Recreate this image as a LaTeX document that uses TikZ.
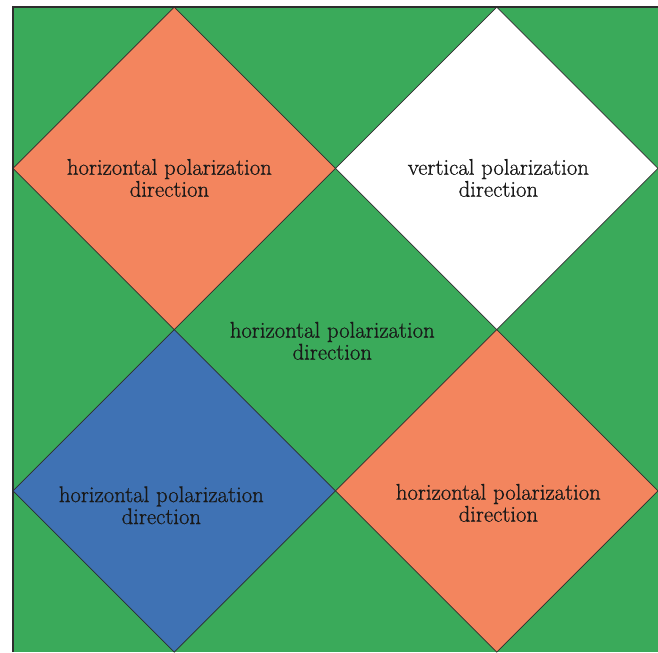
\documentclass[tikz,border=0pt]{standalone}
\usepackage{fontspec}
\usepackage{tikz}
\usepackage{xcolor}
\newfontfamily\polfont{Latin Modern Roman}[FakeBold=0.8]
\definecolor{fieldgreen}{RGB}{58,170,90}
\definecolor{salmon}{RGB}{243,133,94}
\definecolor{cellblue}{RGB}{63,114,180}
\definecolor{edgegray}{RGB}{45,45,45}
\tikzset{cell/.style={draw=edgegray, line width=0.5pt},
 frame/.style={draw=edgegray, line width=0.9pt},
 poltext/.style={align=center, inner sep=0pt, text=black!90,
   font=\polfont\fontsize{16}{15.5}\selectfont},
 }

\begin{document}
\begin{tikzpicture}[x=4cm,y=4cm]
        \useasboundingbox (-0.0806,0) rectangle (4,4.0435);
        \fill[fieldgreen] (0,0) rectangle (4,4);
        % the four squares turned on their corners
        \filldraw[cell, fill=salmon] (1,4) -- (2,3) -- (1,2) -- (0,3) -- cycle;
        \filldraw[cell, fill=white] (3,4) -- (4,3) -- (3,2) -- (2,3) -- cycle;
        \filldraw[cell, fill=cellblue] (1,2) -- (2,1) -- (1,0) -- (0,1) -- cycle;
        \filldraw[cell, fill=salmon] (3,2) -- (4,1) -- (3,0) -- (2,1) -- cycle;
        \draw[frame] (0,0) -- (0,4) -- (4,4);
        \node[poltext] (tl) at (0.97, 2.94) {horizontal polarization\\direction};
        \node[poltext] (tr) at (3.01, 2.94) {vertical polarization\\direction};
        \node[poltext] (mid) at (1.98, 1.93) {horizontal polarization\\direction};
        \node[poltext] (bl) at (0.92, 0.91) {horizontal polarization\\direction};
        \node[poltext] (br) at (3.01, 0.925) {horizontal polarization\\direction};
    \end{tikzpicture}
\end{document}
